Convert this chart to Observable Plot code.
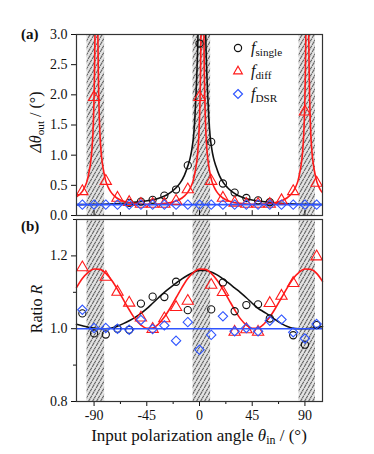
<!DOCTYPE html>
<html>
<head>
<meta charset="utf-8">
<script src="https://cdn.jsdelivr.net/npm/d3@7"></script>
<script src="https://cdn.jsdelivr.net/npm/@observablehq/plot@0.6"></script>
<style>
  html, body { margin: 0; padding: 0; background: #fff; }
  #wrap { position: relative; width: 374px; height: 454px; font-family: "Liberation Serif", "Times New Roman", serif; color: #111; }
  #wrap > svg { display: block; }
  .lbl { position: absolute; white-space: nowrap; line-height: 1; }
  .ylab { transform: translate(-50%, -50%) rotate(-90deg); font-size: 16px; }
  .panel { font-weight: bold; font-size: 15px; }
  sub { font-size: 0.7em; vertical-align: -0.25em; line-height: 0; }
  #wrap .leg { position: absolute; font-size: 16px; white-space: nowrap; line-height: 16px; height: 16px; }
  #wrap .leg svg { display: inline-block; vertical-align: top; }
</style>
</head>
<body>
<svg width="0" height="0" style="position:absolute">
  <defs>
    <pattern id="hatch" patternUnits="userSpaceOnUse" width="4" height="7">
      <rect width="4" height="7" fill="#d2d2d2"></rect>
      <path d="M0,3 L2,0 M2,6.5 L4,3.5" stroke="#2a2a2a" stroke-width="0.75"></path>
      <path d="M2,3 L4,0 M0,6.5 L2,3.5" stroke="#ffffff" stroke-width="0.7"></path>
    </pattern>
  </defs>
</svg>
<div id="wrap"></div>
<script>
// ---------- data ----------
// shaded (hatched) angular bands, degrees
const bandStart = [-96, -5.5, 85];
const bandEnd   = [-81, 9.5, 99];

// panel (a): angular resolution Δθout (°)
const anglesAll = [-100,-90,-80,-70,-60,-50,-40,-30,-20,-10,0,10,20,30,40,50,60,70,80,90,100];
const anglesSingleA = [-60,-50,-40,-30,-20,-10,0,10,20,30,40,50,60];
const singleA = [0.21,0.23,0.26,0.33,0.43,0.83,2.85,1.22,0.53,0.38,0.29,0.25,0.22];
const diffA = [0.40,1.96,0.57,0.29,0.22,0.19,0.19,0.19,0.24,0.43,1.96,0.57,0.29,0.21,0.19,0.19,0.19,0.25,0.40,1.72,0.54];
const dsrA = [0.18,0.18,0.18,0.18,0.18,0.18,0.18,0.18,0.18,0.18,0.18,0.18,0.18,0.18,0.18,0.18,0.18,0.18,0.18,0.18,0.18];
const dsrFitA = 0.18;

// fitted curves in (a): [angle, value]
const singleFitA_left = [[-105,0.18],[-98,0.182],[-88,0.185],[-78,0.19],[-68,0.2],[-58,0.215],[-48,0.235],[-38,0.27],[-33,0.3],[-28,0.34],[-24,0.39],[-20,0.46],[-16.5,0.54],[-13,0.66],[-10,0.82],[-8,0.95],[-6.5,1.1],[-5,1.33],[-4,1.6],[-3,2.0],[-2,2.5],[-1.3,3.0],[0,5]];
const singleFitA_right = [[4,5],[5.3,3.0],[6,2.5],[7,2.0],[8,1.6],[9,1.33],[10.5,1.1],[12,0.95],[14,0.82],[17,0.66],[20.5,0.54],[24,0.46],[28,0.39],[32,0.34],[37,0.3],[42,0.27],[52,0.235],[62,0.215],[72,0.2],[82,0.19],[92,0.185],[105,0.182]];
const diffFitA_1 = [[-105,0.31],[-100,0.40],[-98,0.47],[-96,0.57],[-94,0.75],[-93,0.87],[-92,1.05],[-91,1.35],[-90.5,1.6],[-90,1.95],[-89.6,2.4],[-89.3,2.9],[-89,3.6]];
const diffFitA_2 = [[-87,3.6],[-86.7,2.9],[-86.4,2.4],[-86,1.95],[-85.5,1.6],[-85,1.35],[-84,1.05],[-83,0.87],[-82,0.75],[-80,0.57],[-78,0.47],[-76,0.40],[-73,0.33],[-68,0.26],[-63,0.225],[-58,0.205],[-53,0.195],[-43,0.185],[-32.5,0.195],[-27.5,0.205],[-22.5,0.225],[-17.5,0.26],[-12.5,0.33],[-9.5,0.40],[-7.5,0.47],[-5.5,0.57],[-3.5,0.75],[-2.5,0.87],[-1.5,1.05],[-0.5,1.35],[0,1.6],[0.5,1.95],[0.9,2.4],[1.2,2.9],[1.5,3.6]];
const diffFitA_3 = [[3.5,3.6],[3.8,2.9],[4.1,2.4],[4.5,1.95],[5,1.6],[5.5,1.35],[6.5,1.05],[7.5,0.87],[8.5,0.75],[10.5,0.57],[12.5,0.47],[14.5,0.40],[17.5,0.33],[22.5,0.26],[27.5,0.225],[32.5,0.205],[37.5,0.195],[47,0.185],[57,0.195],[62,0.205],[67,0.225],[72,0.26],[77,0.33],[80,0.40],[82,0.47],[84,0.57],[86,0.75],[87,0.87],[88,1.05],[89,1.35],[89.5,1.6],[90,1.95],[90.4,2.4],[90.7,2.9],[91,3.6]];
const diffFitA_4 = [[93,3.6],[93.3,2.9],[93.6,2.4],[94,1.95],[94.5,1.6],[95,1.35],[96,1.05],[97,0.87],[98,0.75],[100,0.57],[102,0.47],[104,0.40],[105,0.38]];

// panel (b): ratio R
const anglesSingleB = [-100,-90,-80,-70,-60,-50,-40,-30,-20,-10,10,20,30,40,50,60,80,90,100];
const singleB = [1.042,0.987,0.984,1.0,0.997,1.069,1.088,1.087,1.129,1.051,1.053,1.127,1.048,1.065,1.067,1.028,0.982,0.956,1.01];
const anglesDiffB = [-100,-80,-70,-60,-50,-40,-30,-20,-10,10,20,30,40,50,60,70,80,100];
const diffB = [1.168,1.142,1.101,1.071,1.03,0.999,1.028,1.059,1.076,1.12,1.10,0.991,0.998,0.991,1.07,1.09,1.125,1.198];
const dsrB = [1.052,1.002,1.002,1.0,0.997,1.024,0.999,1.009,0.967,1.018,0.942,0.983,1.034,0.993,1.002,0.993,1.022,1.025,0.99,0.973,1.013];
const dsrFitB = 1.0;

const fitAnglesB = [-105,-100,-95,-90,-85,-80,-75,-70,-65,-60,-55,-50,-45,-40,-35,-30,-25,-20,-15,-10,-5,0,5,10,15,20,25,30,35,40,45,50,55,60,65,70,75,80,85,90,95,100,105];
const singleFitB = [1.012,1.008,1.004,1.002,1.0,1.0,1.002,1.007,1.014,1.022,1.031,1.042,1.055,1.07,1.085,1.1,1.113,1.125,1.137,1.147,1.155,1.16,1.16,1.156,1.148,1.137,1.125,1.112,1.099,1.085,1.07,1.056,1.046,1.036,1.024,1.014,1.006,1.001,1.0,1.0,1.001,1.003,1.006];
const diffFitB = [1.113,1.138,1.155,1.164,1.163,1.152,1.133,1.108,1.080,1.052,1.027,1.010,1.001,1.002,1.013,1.032,1.057,1.085,1.113,1.138,1.155,1.164,1.163,1.152,1.133,1.108,1.080,1.052,1.027,1.010,1.001,1.002,1.013,1.032,1.057,1.085,1.113,1.138,1.155,1.164,1.163,1.152,1.13];

// axis ticks
const xMajor = [-90,-45,0,45,90];
const xMinor = [-67.5,-22.5,22.5,67.5];
const yTicksA = [0,0.5,1,1.5,2,2.5,3];
const yTicksB = [0.8,1.0,1.2];
const yMinorB = [0.9,1.1,1.3];

// ---------- styles ----------
const BLACK = "#111", RED = "#ff1a1a", BLUE = "#2f55ff";
const FONT = "'Liberation Serif','Times New Roman',serif";
const bands = bandStart.map((s, i) => ({s, e: bandEnd[i]}));
const toPts = arr => arr.map(([x, y]) => ({x, y}));
const zipXY = (xs, ys) => xs.map((x, i) => ({x, y: ys[i]}));

const common = {
  width: 374, marginLeft: 76, marginRight: 52,
  style: {fontFamily: FONT, fontSize: "14px", color: "#111", background: "transparent", overflow: "visible"}
};

const plotA = Plot.plot({
  ...common,
  height: 217, marginTop: 34, marginBottom: 2,
  x: {domain: [-105, 105], axis: null},
  y: {domain: [0, 3], axis: null},
  marks: [
    Plot.rect(bands, {x1: "s", x2: "e", fill: "url(#hatch)"}),
    Plot.line(toPts(singleFitA_left), {x: "x", y: "y", stroke: BLACK, strokeWidth: 1.6, curve: "monotone-x", clip: true}),
    Plot.line(toPts(singleFitA_right), {x: "x", y: "y", stroke: BLACK, strokeWidth: 1.6, curve: "monotone-x", clip: true}),
    ...[diffFitA_1, diffFitA_2, diffFitA_3, diffFitA_4].map(b =>
      Plot.line(toPts(b), {x: "x", y: "y", stroke: RED, strokeWidth: 1.6, curve: "monotone-x", clip: true})),
    Plot.ruleY([dsrFitA], {stroke: BLUE, strokeWidth: 1.8}),
    Plot.dot(zipXY(anglesSingleA, singleA), {x: "x", y: "y", symbol: "circle", r: 3.6, stroke: BLACK, strokeWidth: 1.1, fill: "none"}),
    Plot.dot(zipXY(anglesAll, diffA), {x: "x", y: "y", symbol: "triangle", r: 4.2, stroke: RED, strokeWidth: 1.1, fill: "none"}),
    Plot.dot(zipXY(anglesAll, dsrA), {x: "x", y: "y", symbol: "diamond2", r: 4.2, stroke: BLUE, strokeWidth: 1.1, fill: "none"}),
    Plot.ruleX(xMajor, {y1: 0, y2: 0.08, stroke: BLACK}),
    Plot.ruleX(xMinor, {y1: 0, y2: 0.05, stroke: BLACK}),
    Plot.axisY(yTicksA, {tickFormat: d3.format(".1f"), tickSize: 5, label: null, fontSize: 14}),
    Plot.frame({stroke: "#333", strokeWidth: 1.2})
  ]
});

const plotB = Plot.plot({
  ...common,
  height: 237, marginTop: 2, marginBottom: 53,
  x: {domain: [-105, 105], axis: null},
  y: {domain: [0.8, 1.3], axis: null},
  marks: [
    Plot.rect(bands, {x1: "s", x2: "e", fill: "url(#hatch)"}),
    Plot.line(zipXY(fitAnglesB, singleFitB), {x: "x", y: "y", stroke: BLACK, strokeWidth: 1.6, curve: "monotone-x"}),
    Plot.line(zipXY(fitAnglesB, diffFitB), {x: "x", y: "y", stroke: RED, strokeWidth: 1.6, curve: "monotone-x"}),
    Plot.ruleY([dsrFitB], {stroke: BLUE, strokeWidth: 1.6}),
    Plot.dot(zipXY(anglesSingleB, singleB), {x: "x", y: "y", symbol: "circle", r: 3.6, stroke: BLACK, strokeWidth: 1.1, fill: "none"}),
    Plot.dot(zipXY(anglesDiffB, diffB), {x: "x", y: "y", symbol: "triangle", r: 4.2, stroke: RED, strokeWidth: 1.1, fill: "none"}),
    Plot.dot(zipXY(anglesAll, dsrB), {x: "x", y: "y", symbol: "diamond2", r: 4.2, stroke: BLUE, strokeWidth: 1.1, fill: "none"}),
    Plot.axisX(xMajor, {tickFormat: d => String(d), tickSize: 5, label: null, fontSize: 14, tickPadding: 4}),
    Plot.axisX(xMinor, {tickFormat: () => "", tickSize: 3, label: null}),
    Plot.axisY(yTicksB, {tickFormat: d3.format(".1f"), tickSize: 5, label: null, fontSize: 14}),
    Plot.axisY(yMinorB, {tickFormat: () => "", tickSize: 3, label: null}),
    Plot.frame({stroke: "#333", strokeWidth: 1.2})
  ]
});

const wrap = document.getElementById("wrap");
wrap.appendChild(plotA);
wrap.appendChild(plotB);

function addLabel(html, cls, style) {
  const d = document.createElement("div");
  d.className = cls;
  d.innerHTML = html;
  Object.assign(d.style, style);
  wrap.appendChild(d);
  return d;
}
addLabel("(a)", "lbl panel", {left: "21px", top: "27px"});
addLabel("(b)", "lbl panel", {left: "21px", top: "219px"});
addLabel("<i>&Delta;&theta;</i><sub>out</sub> / (&deg;)", "lbl ylab", {left: "36px", top: "122px"});
addLabel("Ratio <i>R</i>", "lbl ylab", {left: "37px", top: "309px"});
addLabel("Input polarization angle <i>&theta;</i><sub>in</sub> / (&deg;)", "lbl", {left: "199px", top: "427px", fontSize: "17px", transform: "translateX(-50%)"});

// legend
const legendItems = [
  {sym: "circle", color: BLACK, sub: "single", top: 40},
  {sym: "triangle", color: RED, sub: "diff", top: 63},
  {sym: "diamond", color: BLUE, sub: "DSR", top: 86}
];
legendItems.forEach(it => {
  let shape;
  if (it.sym === "circle") shape = `<circle cx="8" cy="8" r="3.6" fill="none" stroke="${it.color}" stroke-width="1.2"/>`;
  else if (it.sym === "triangle") shape = `<path d="M8,3.3 L12.3,10.8 L3.7,10.8 Z" fill="none" stroke="${it.color}" stroke-width="1.2"/>`;
  else shape = `<path d="M8,3.5 L12.5,8 L8,12.5 L3.5,8 Z" fill="none" stroke="${it.color}" stroke-width="1.2"/>`;
  addLabel(`<svg width="16" height="16">${shape}</svg><span style="margin-left:5px"><i>f</i><sub>${it.sub}</sub></span>`, "leg", {left: "230px", top: it.top + "px"});
});
</script>
</body>
</html>
